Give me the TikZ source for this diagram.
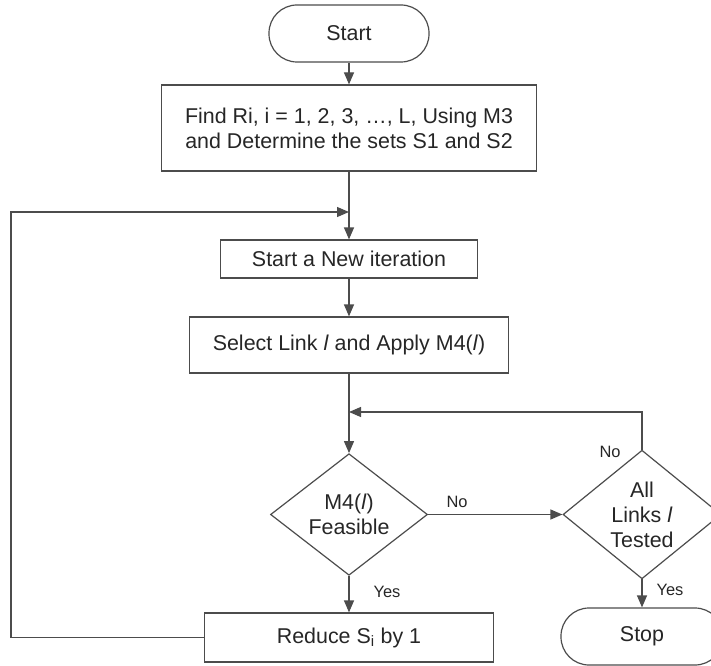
\documentclass[tikz,border=0pt]{standalone}
\usepackage{fontspec}
\setmainfont{Liberation Sans}
\usetikzlibrary{arrows.meta,shapes.geometric}

\begin{document}
\begin{tikzpicture}[x=1bp,y=-1bp,
  every node/.style={text=black!85, font=\fontsize{21.5}{25}\selectfont},
  flowline/.style={draw=black!70, line width=1.2bp},
  boxnode/.style={flowline, rectangle, inner sep=0pt, align=center},
  terminal/.style={flowline, rectangle, rounded corners=28bp, inner sep=0pt, minimum width=160bp, minimum height=57bp},
  decision/.style={flowline, diamond, inner sep=0pt, align=center},
  arrowline/.style={flowline, -{Triangle[length=12bp,width=10bp]}},
  plainline/.style={flowline},
  branch/.style={font=\fontsize{16.5}{18}\selectfont}
]
\useasboundingbox (0,0) rectangle (711,666);

% main column
\node[terminal] (start) at (349,33.5) {Start};
\node[boxnode, minimum width=375bp, minimum height=86bp] (find) at (349,128)
  {Find Ri, i = 1, 2, 3, \dots, L, Using M3\\and Determine the sets S1 and S2};
\node[boxnode, minimum width=257bp, minimum height=38bp] (iter) at (349,259) {Start a New iteration};
\node[boxnode, minimum width=319bp, minimum height=56bp] (select) at (349,345)
  {Select Link \textit{l} and Apply M4(\textit{l})};
\node[decision, minimum width=157bp, minimum height=113bp] (feas) at (349,514.5)
  {M4(\textit{l})\\Feasible};
\node[boxnode, minimum width=289bp, minimum height=49bp] (reduce) at (349,637.5)
  {Reduce S\textsubscript{i} by 1};

% right column
\node[decision, minimum width=158bp, minimum height=113bp] (alltested) at (642,514.5)
  {All\\Links \textit{l}\\Tested};
\node[terminal, minimum width=162bp] (stop) at (642,636.5) {Stop};

% junction points
\coordinate (loopin) at (349,212);
\coordinate (retin) at (349,412);
\coordinate (loopbl) at (11,637.5);
\coordinate (looptl) at (11,212);
\coordinate (rettop) at (642,412);

% connectors
\draw[arrowline] (start) -- (find);
\draw[plainline] (find) -- (loopin);
\draw[arrowline] (loopin) -- (iter);
\draw[arrowline] (iter) -- (select);
\draw[plainline] (select) -- (retin);
\draw[arrowline] (retin) -- (feas);
\draw[arrowline] (feas.south) -- (reduce.north);
\draw[arrowline] (feas.east) -- (alltested.west);
\draw[arrowline] (alltested.south) -- (stop.north);
\draw[arrowline] (reduce.west) -- (loopbl) -- (looptl) -- (loopin);
\draw[arrowline] (alltested.north) -- (rettop) -- (retin);

% branch labels
\node[branch] (no1) at (457,502) {No};
\node[branch] (yes1) at (387,592) {Yes};
\node[branch] (no2) at (610,452) {No};
\node[branch] (yes2) at (670,590) {Yes};
\end{tikzpicture}
\end{document}
